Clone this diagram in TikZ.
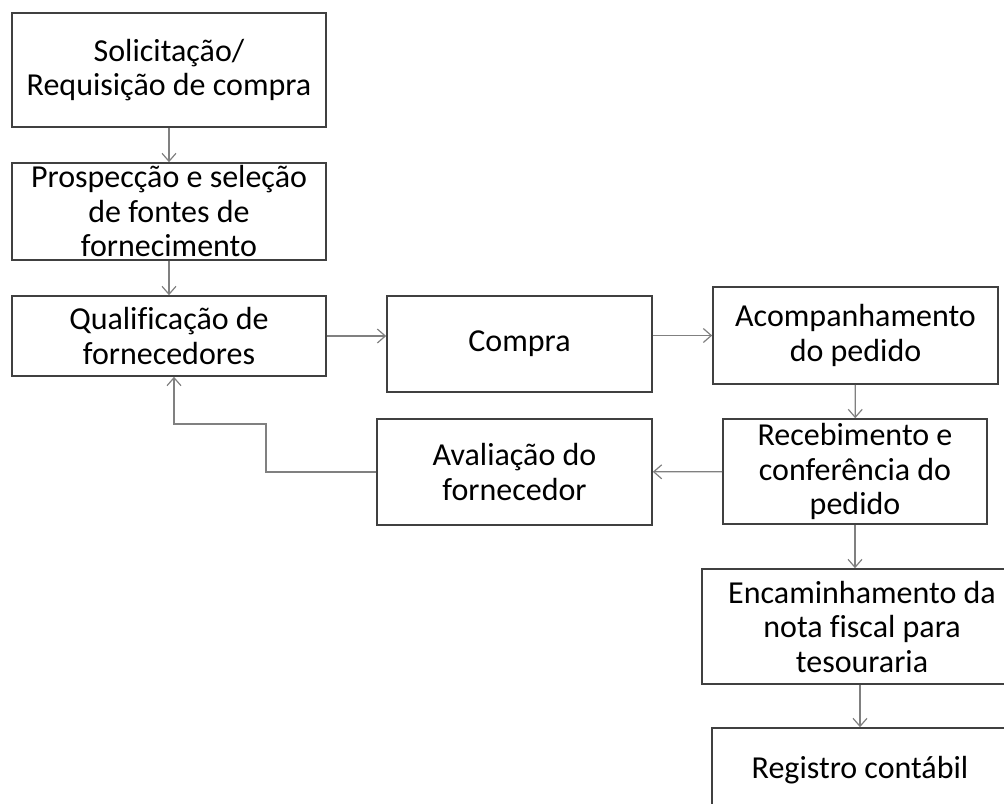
\documentclass[tikz,border=0pt]{standalone}
\usepackage{fontspec}
\setmainfont{Carlito}[Ligatures=CommonOff]
\usetikzlibrary{arrows.meta}
\begin{document}
\begin{tikzpicture}[x=0.5pt,y=-0.5pt,
    caixa/.style={draw=black!75, line width=0.8pt, align=center, inner sep=0pt,
      font=\fontsize{16}{17.25}\selectfont},
    seta/.style={draw=black!50, line width=0.6pt, -{Straight Barb[length=4pt,width=7pt]}}]
  \useasboundingbox (0,0) rectangle (1004,803);
  \clip (0,0) rectangle (1004,803);
  % coluna da esquerda
  \node[caixa, minimum width=157pt, minimum height=57pt] (solic) at (169,70) {Solicitação/\\Requisição de compra};
  \node[caixa, minimum width=157pt, minimum height=48.5pt] (prosp) at (169,211.5) {Prospecção e seleção\\de fontes de\\fornecimento};
  \node[caixa, minimum width=157pt, minimum height=40pt] (qualif) at (169,336) {Qualificação de\\fornecedores};
  % meio
  \node[caixa, minimum width=132.5pt, minimum height=48pt] (compra) at (519.5,344) {Compra};
  \node[caixa, minimum width=137.5pt, minimum height=53pt] (aval) at (514.5,472) {Avaliação do\\fornecedor};
  % coluna da direita
  \node[caixa, minimum width=142.5pt, minimum height=48.5pt] (acomp) at (855.5,335.5) {Acompanhamento\\do pedido};
  \node[caixa, minimum width=132pt, minimum height=52.5pt] (receb) at (855,471.5) {Recebimento e\\conferência do\\pedido};
  \node[caixa, minimum width=160pt, minimum height=57.5pt] (encam) at (862,626.5) {Encaminhamento da\\nota fiscal para\\tesouraria};
  \node[caixa, minimum width=148pt, minimum height=42pt] (regis) at (860,770) {Registro contábil};
  % setas
  \draw[seta] (solic) -- (prosp);
  \draw[seta] (prosp) -- (qualif);
  \draw[seta] (qualif) -- (compra.west |- qualif);
  \draw[seta] (compra.east |- acomp) -- (acomp);
  \draw[seta] (acomp) -- (receb);
  \draw[seta] (receb.south) -- (receb.south |- encam.north);
  \draw[seta] (regis.north |- encam.south) -- (regis.north);
  \draw[seta] (receb) -- (aval);
  \draw[seta] (aval.west) -| (266,424) -| ([xshift=2.5pt]qualif.south);
\end{tikzpicture}
\end{document}
